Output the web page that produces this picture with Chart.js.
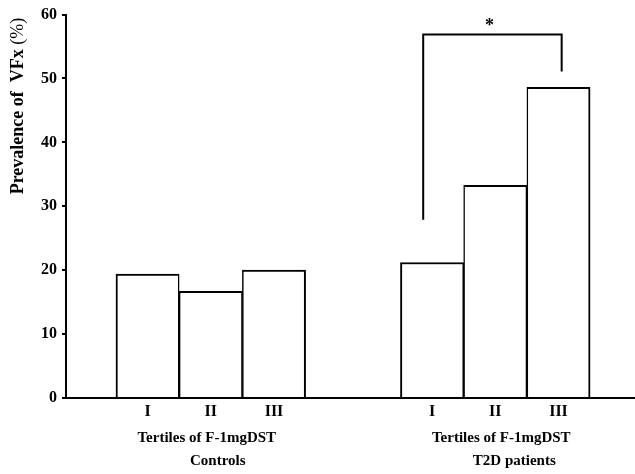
<!DOCTYPE html>
<html lang="en">
<head>
    <meta charset="UTF-8">
    <title>Prevalence of VFx</title>
    <script src="https://cdn.jsdelivr.net/npm/chart.js"></script>
    <style>
        body {
            margin: 0;
            padding: 0;
            background: #fff;
        }
        .chart-box {
            width: 635px;
            height: 474px;
            position: relative;
        }
    </style>
</head>
<body>
    <div class="chart-box">
        <canvas id="barChart"></canvas>
    </div>

    <script>
        // Données
        const tertileLabels = ['I', 'II', 'III', 'I', 'II', 'III'];
        const barSlots = [0, 1, 2, 4.5, 5.5, 6.5];
        const prevalence = [19.4, 16.7, 20.0, 21.2, 33.3, 48.6];
        const groupNames = ['Controls', 'T2D patients'];
        const groupAxisTitle = 'Tertiles of F-1mgDST';
        const yTicks = [0, 10, 20, 30, 40, 50, 60];
        // crochet de significativité (T2D I vs III)
        const bracketX = [4.36, 4.36, 6.55, 6.55];
        const bracketY = [27.9, 56.9, 56.9, 51.1];
        const sigMark = '*';

        const serif = '"Liberation Serif", "Times New Roman", serif';

        // Textes dessinés à la main : titre de l'axe Y, groupes, astérisque
        const extraText = {
            id: 'extraText',
            afterDraw(chart) {
                const ctx = chart.ctx;
                const x = chart.scales.x;
                const y = chart.scales.y;
                ctx.save();
                ctx.fillStyle = '#000';
                ctx.textBaseline = 'middle';

                // titre Y
                ctx.save();
                ctx.translate(18, 106);
                ctx.rotate(-Math.PI / 2);
                const boldPart = 'Prevalence of  VFx ';
                const normPart = '(%)';
                ctx.font = 'bold 18px ' + serif;
                const w1 = ctx.measureText(boldPart).width;
                ctx.font = '18px ' + serif;
                const w2 = ctx.measureText(normPart).width;
                const start = -(w1 + w2) / 2;
                ctx.textAlign = 'left';
                ctx.font = 'bold 18px ' + serif;
                ctx.fillText(boldPart, start, 0);
                ctx.font = '18px ' + serif;
                ctx.fillText(normPart, start + w1, 0);
                ctx.restore();

                // libellés de groupes
                ctx.textAlign = 'center';
                ctx.font = 'bold 15px ' + serif;
                const centers = [1, 5.5];
                const titleShift = [-4, 6];
                const nameShift = [7, 19];
                centers.forEach((c, i) => {
                    const px = x.getPixelForValue(c);
                    ctx.fillText(groupAxisTitle, px + titleShift[i], 438);
                    ctx.fillText(groupNames[i], px + nameShift[i], 461);
                });

                // astérisque
                ctx.font = 'bold 18px ' + serif;
                const midX = (bracketX[0] + bracketX[3]) / 2;
                ctx.fillText(sigMark, x.getPixelForValue(midX) - 3, y.getPixelForValue(bracketY[1]) - 8);
                ctx.restore();
            }
        };

        const ctx = document.getElementById('barChart').getContext('2d');
        new Chart(ctx, {
            type: 'bar',
            data: {
                datasets: [{
                    type: 'bar',
                    data: barSlots.map((s, i) => ({ x: s, y: prevalence[i] })),
                    backgroundColor: '#fff',
                    borderColor: '#000',
                    borderWidth: c => ({
                        top: 2,
                        left: c.dataIndex % 3 === 0 ? 2 : 1.5,
                        right: c.dataIndex % 3 === 2 ? 2 : 1.5,
                        bottom: 0
                    }),
                    borderSkipped: 'start',
                    barPercentage: 1,
                    categoryPercentage: 1
                }, {
                    type: 'line',
                    data: bracketX.map((bx, i) => ({ x: bx, y: bracketY[i] })),
                    borderColor: '#000',
                    borderWidth: 2,
                    pointRadius: 0,
                    tension: 0,
                    fill: false
                }]
            },
            options: {
                responsive: true,
                maintainAspectRatio: false,
                animation: false,
                layout: { padding: { top: 13, right: 0, left: 0, bottom: 0 } },
                plugins: {
                    legend: { display: false },
                    tooltip: { enabled: false }
                },
                scales: {
                    x: {
                        type: 'linear',
                        offset: false,
                        min: -1.29,
                        max: 7.71,
                        afterFit: s => { s.height = 76; },
                        afterBuildTicks: s => { s.ticks = barSlots.map(v => ({ value: v })); },
                        grid: { display: false, offset: false },
                        border: { display: true, color: '#000', width: 2 },
                        ticks: {
                            autoSkip: false,
                            maxRotation: 0,
                            padding: -4,
                            color: '#000',
                            font: { family: serif, size: 16, weight: 'bold' },
                            callback: v => {
                                const i = barSlots.indexOf(v);
                                return i >= 0 ? tertileLabels[i] : '';
                            }
                        }
                    },
                    y: {
                        min: 0,
                        max: 60,
                        afterFit: s => { s.width = 66; },
                        afterBuildTicks: s => { s.ticks = yTicks.map(v => ({ value: v })); },
                        grid: {
                            drawOnChartArea: false,
                            drawTicks: true,
                            tickLength: 4,
                            color: '#000',
                            lineWidth: 2
                        },
                        border: { display: true, color: '#000', width: 2 },
                        ticks: {
                            padding: 5,
                            color: '#000',
                            font: { family: serif, size: 16, weight: 'bold' }
                        }
                    }
                }
            },
            plugins: [extraText]
        });
    </script>
</body>
</html>
